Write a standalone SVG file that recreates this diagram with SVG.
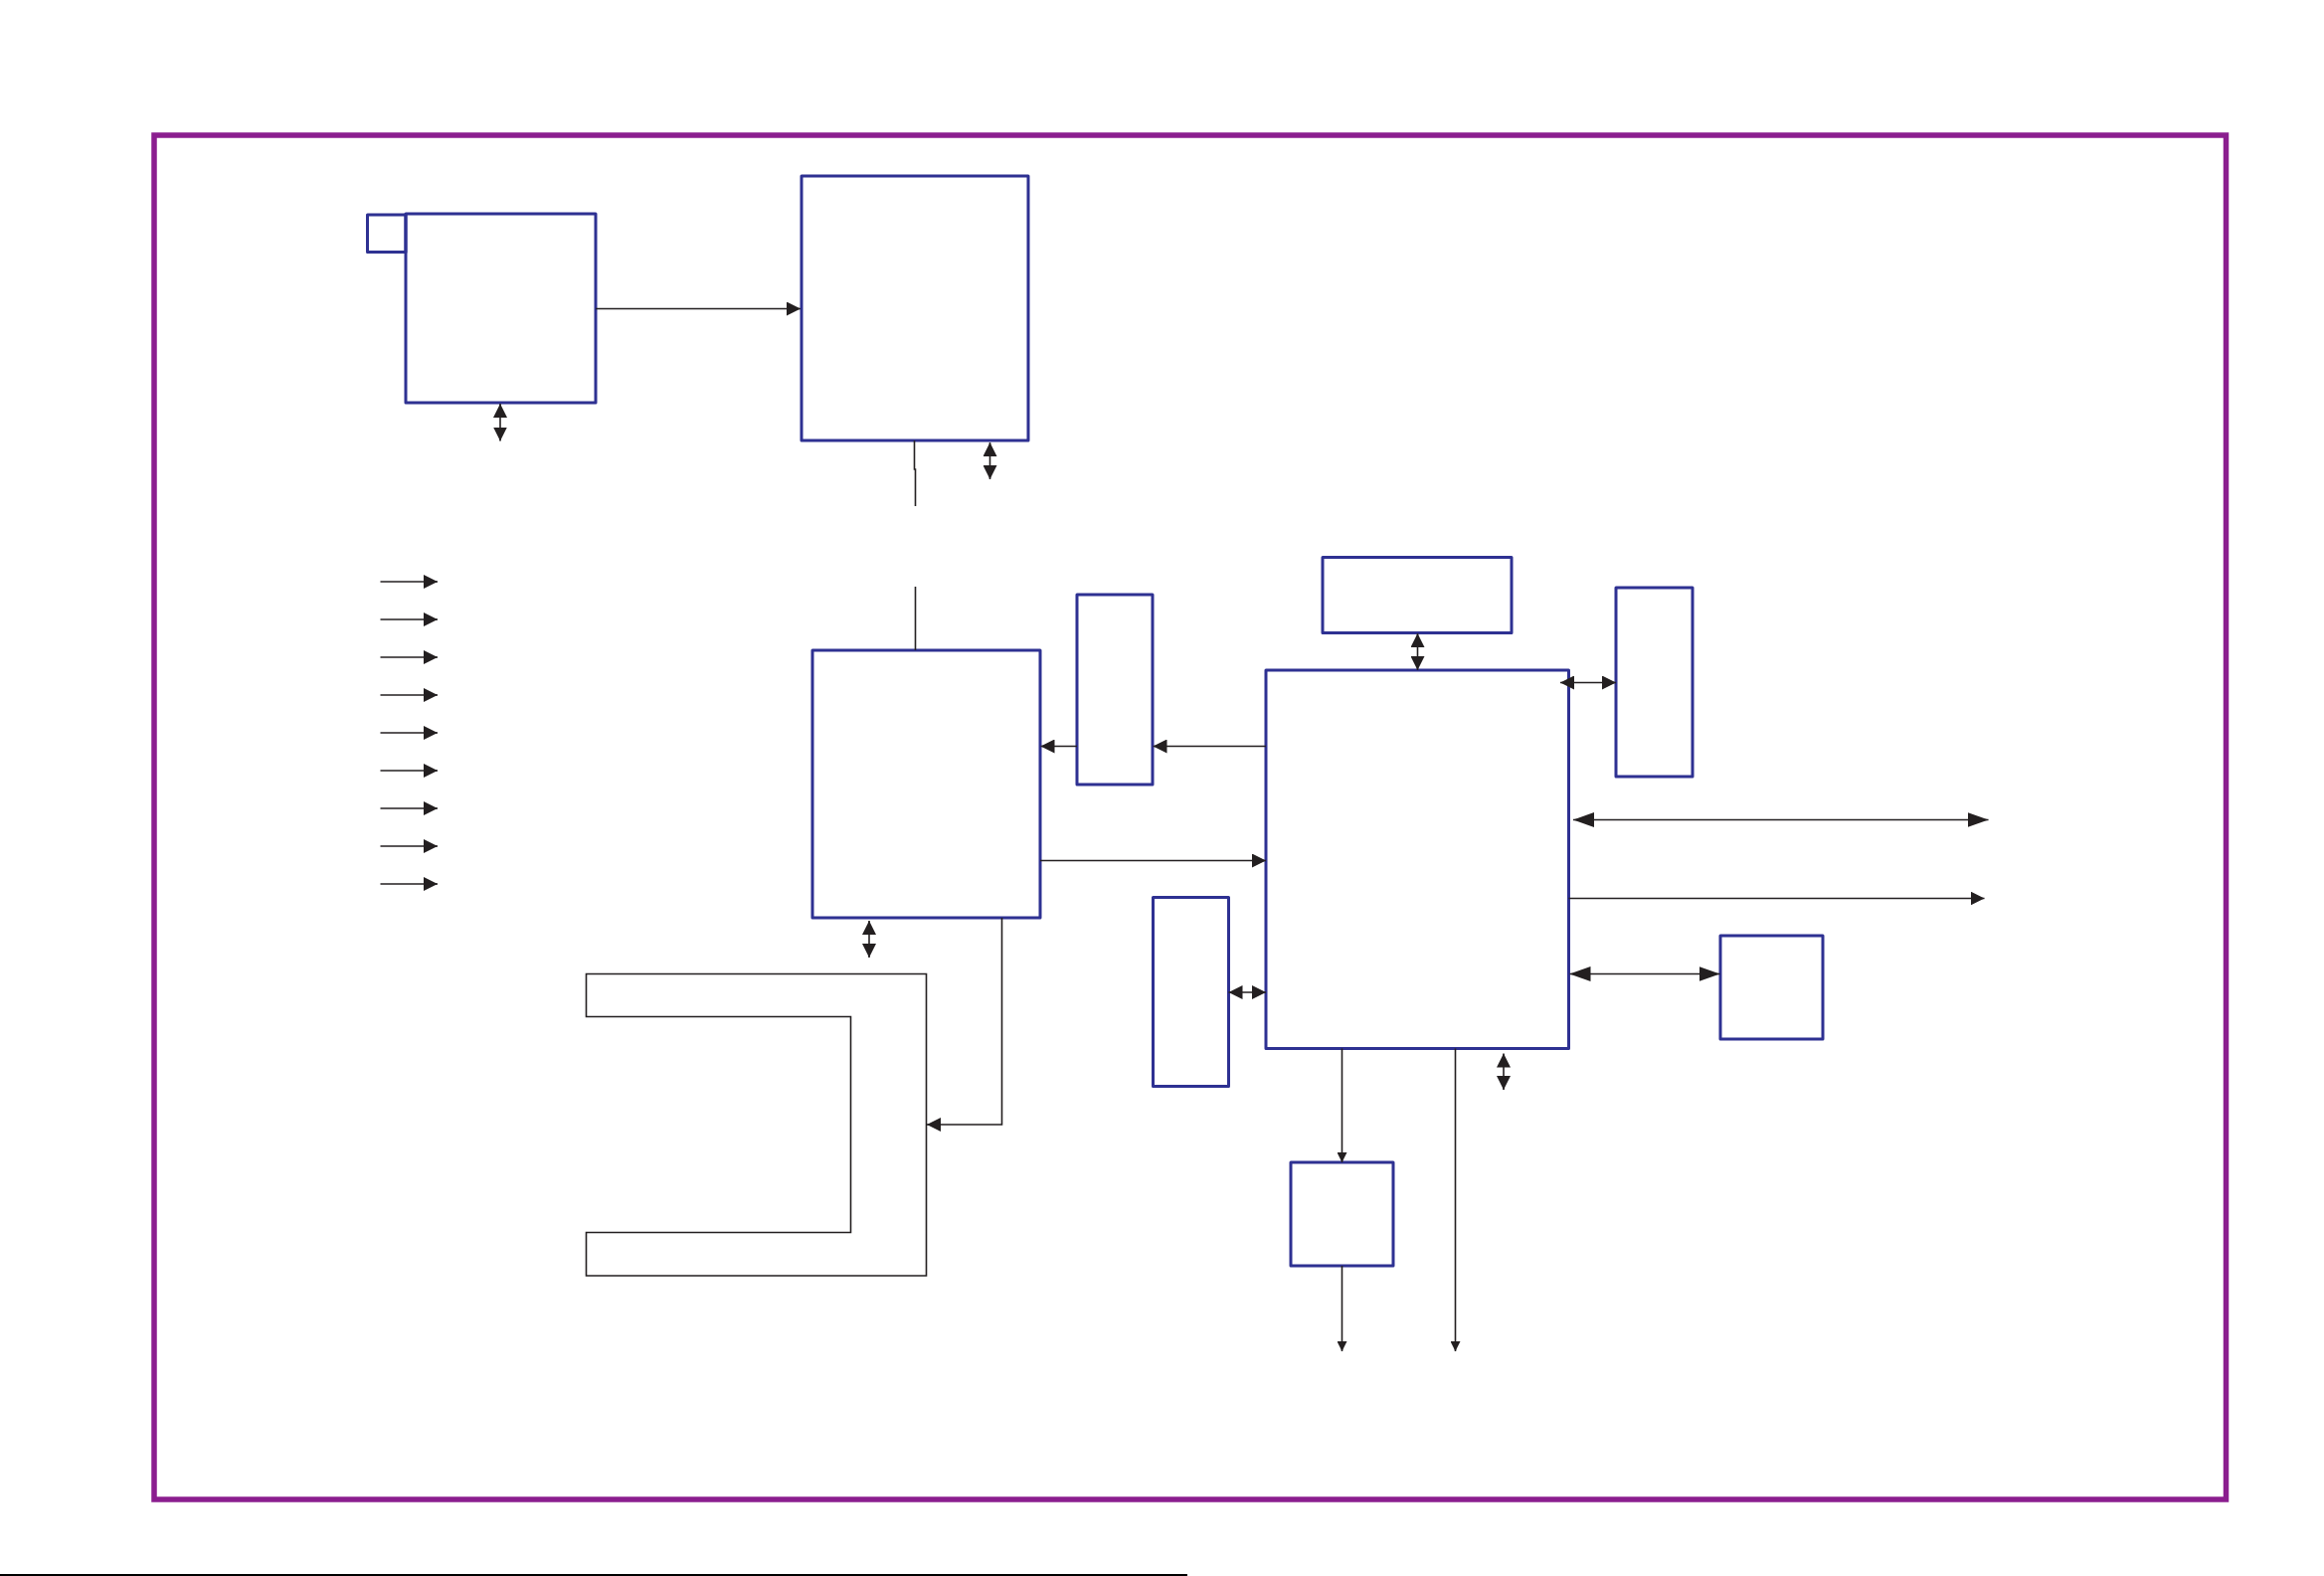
<svg xmlns="http://www.w3.org/2000/svg" width="2337" height="1585" viewBox="0 0 2337 1585">
<style>
.box{fill:none;stroke:#2e3192;stroke-width:3;stroke-linejoin:round}
.ln{fill:none;stroke:#231f20;stroke-width:1.6}
.frame{fill:none;stroke:#8b1e8f;stroke-width:5.5}
</style>
<defs>
<marker id="a" viewBox="0 0 14 14" refX="14" refY="7" markerWidth="14" markerHeight="14" markerUnits="userSpaceOnUse" orient="auto-start-reverse"><path d="M0,0 L14,7 L0,14 z" fill="#231f20"/></marker>
<marker id="aL" viewBox="0 0 21 15" refX="21" refY="7.5" markerWidth="21" markerHeight="15" markerUnits="userSpaceOnUse" orient="auto-start-reverse"><path d="M0,0 L21,7.5 L0,15 z" fill="#231f20"/></marker>
<marker id="aS" viewBox="0 0 10 10" refX="10" refY="5" markerWidth="10" markerHeight="10" markerUnits="userSpaceOnUse" orient="auto-start-reverse"><path d="M0,0 L10,5 L0,10 z" fill="#231f20"/></marker>
</defs>
<rect width="2337" height="1585" fill="#fff"/>
<rect class="frame" x="155" y="136" width="2083.5" height="1372"/>
<g id="nodes">
<g id="n-small"><rect class="box" x="369.5" y="216" width="38.5" height="37.5"/></g>
<g id="n-box1"><rect class="box" x="408" y="215" width="191" height="190"/></g>
<g id="n-box2"><rect class="box" x="806" y="177" width="228" height="266"/></g>
<g id="n-box3"><rect class="box" x="817" y="654" width="229" height="269"/></g>
<g id="n-box4"><rect class="box" x="1083" y="598" width="76" height="191"/></g>
<g id="n-box5"><rect class="box" x="1159.5" y="902.5" width="76" height="190"/></g>
<g id="n-top"><rect class="box" x="1330" y="560.5" width="190" height="76"/></g>
<g id="n-main"><rect class="box" x="1273" y="674" width="304.5" height="380.5"/></g>
<g id="n-box6"><rect class="box" x="1625" y="591" width="77" height="190"/></g>
<g id="n-box7"><rect class="box" x="1730" y="941" width="103" height="104"/></g>
<g id="n-box8"><rect class="box" x="1298" y="1169" width="103" height="104"/></g>
<g id="n-cshape"><path class="ln" d="M589.5,979.5 H931.5 V1283 H589.5 V1239.5 H855.5 V1022.5 H589.5 Z"/></g>
</g>
<g id="connectors">
<line class="ln" x1="599" y1="310.5" x2="805" y2="310.5" marker-end="url(#a)"/>
<line class="ln" x1="503" y1="406" x2="503" y2="443.5" marker-start="url(#a)" marker-end="url(#a)"/>
<line class="ln" x1="995.5" y1="445" x2="995.5" y2="482" marker-start="url(#a)" marker-end="url(#a)"/>
<path class="ln" d="M919.5,443 V472 H920.5 V509"/>
<line class="ln" x1="920.5" y1="590" x2="920.5" y2="654"/>
<line class="ln" x1="382.5" y1="585" x2="440" y2="585" marker-end="url(#a)"/>
<line class="ln" x1="382.5" y1="623" x2="440" y2="623" marker-end="url(#a)"/>
<line class="ln" x1="382.5" y1="661" x2="440" y2="661" marker-end="url(#a)"/>
<line class="ln" x1="382.5" y1="699" x2="440" y2="699" marker-end="url(#a)"/>
<line class="ln" x1="382.5" y1="737" x2="440" y2="737" marker-end="url(#a)"/>
<line class="ln" x1="382.5" y1="775" x2="440" y2="775" marker-end="url(#a)"/>
<line class="ln" x1="382.5" y1="813" x2="440" y2="813" marker-end="url(#a)"/>
<line class="ln" x1="382.5" y1="851" x2="440" y2="851" marker-end="url(#a)"/>
<line class="ln" x1="382.5" y1="889" x2="440" y2="889" marker-end="url(#a)"/>
<line class="ln" x1="874" y1="926" x2="874" y2="963" marker-start="url(#a)" marker-end="url(#a)"/>
<path class="ln" d="M1007.5,923 V1131 H932" marker-end="url(#a)"/>
<line class="ln" x1="1273" y1="750.5" x2="1159.5" y2="750.5" marker-end="url(#a)"/>
<line class="ln" x1="1083" y1="750.5" x2="1046.5" y2="750.5" marker-end="url(#a)"/>
<line class="ln" x1="1046" y1="865.5" x2="1273" y2="865.5" marker-end="url(#a)"/>
<line class="ln" x1="1235.5" y1="998" x2="1273" y2="998" marker-start="url(#a)" marker-end="url(#a)"/>
<line class="ln" x1="1425.5" y1="637" x2="1425.5" y2="674" marker-start="url(#a)" marker-end="url(#a)"/>
<line class="ln" x1="1569" y1="686.5" x2="1625" y2="686.5" marker-start="url(#a)" marker-end="url(#a)"/>
<line class="ln" x1="1582" y1="824.5" x2="1999.5" y2="824.5" marker-start="url(#aL)" marker-end="url(#aL)"/>
<line class="ln" x1="1577.5" y1="903.5" x2="1995.5" y2="903.5" marker-end="url(#a)"/>
<line class="ln" x1="1578.5" y1="979.5" x2="1729.5" y2="979.5" marker-start="url(#aL)" marker-end="url(#aL)"/>
<line class="ln" x1="1512" y1="1059.5" x2="1512" y2="1096" marker-start="url(#a)" marker-end="url(#a)"/>
<line class="ln" x1="1349.5" y1="1054.5" x2="1349.5" y2="1169" marker-end="url(#aS)"/>
<line class="ln" x1="1349.5" y1="1273" x2="1349.5" y2="1359" marker-end="url(#aS)"/>
<line class="ln" x1="1463.5" y1="1054.5" x2="1463.5" y2="1359" marker-end="url(#aS)"/>
</g>
<line x1="0" y1="1584" x2="1194" y2="1584" stroke="#000" stroke-width="2"/>
</svg>
